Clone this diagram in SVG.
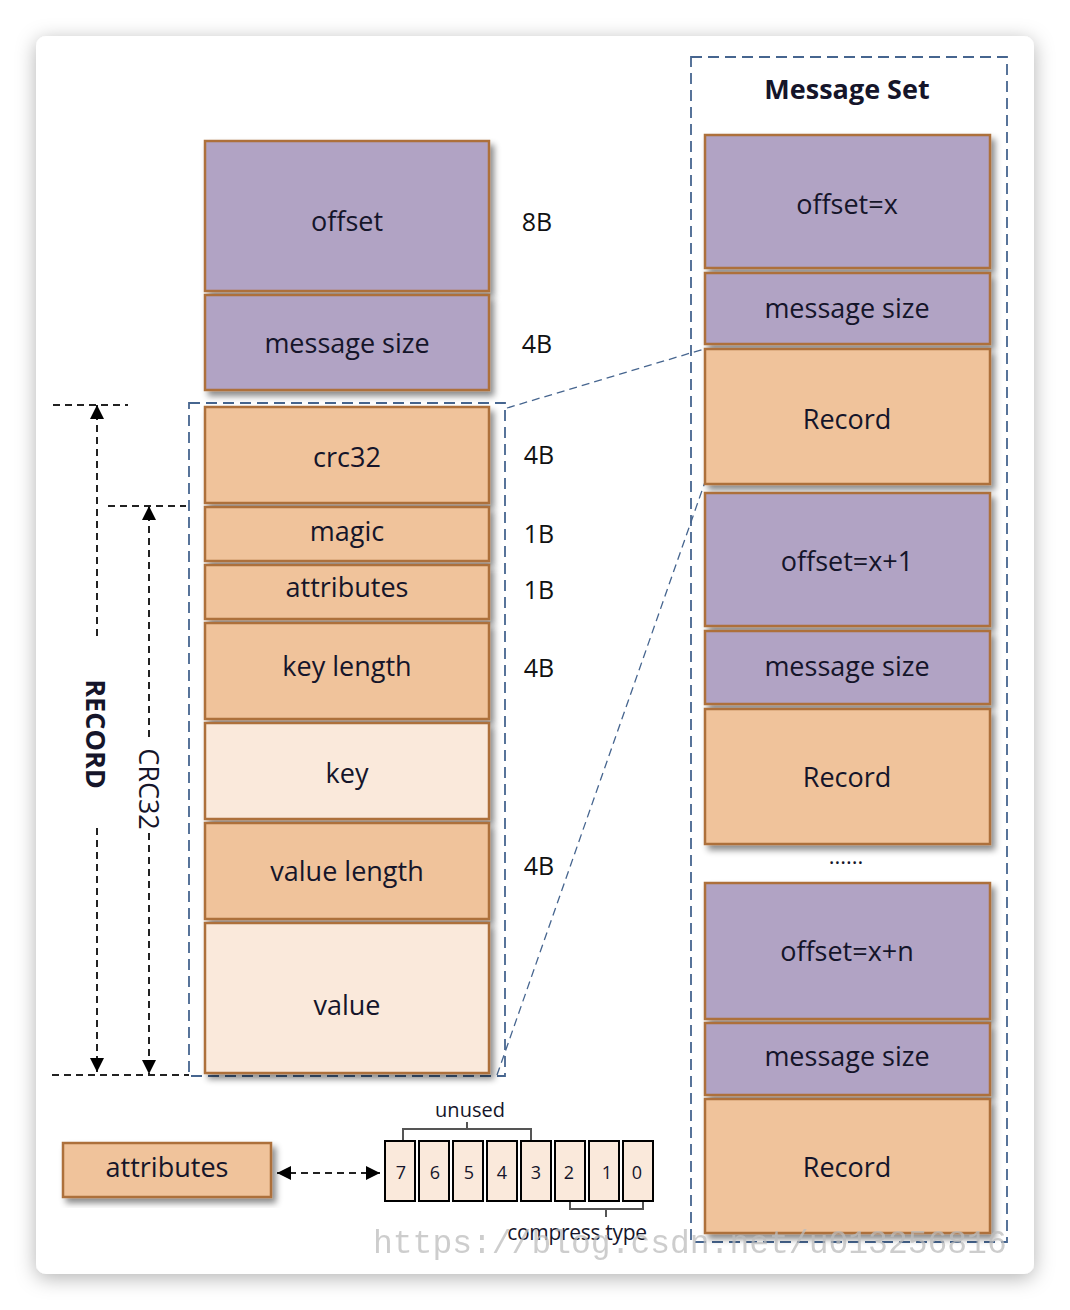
<svg xmlns="http://www.w3.org/2000/svg" width="1070" height="1310" viewBox="0 0 1070 1310">
<defs>
<filter id="card" x="-10%" y="-10%" width="120%" height="120%"><feDropShadow dx="0" dy="4" stdDeviation="10" flood-color="#000" flood-opacity="0.3"/></filter>
<filter id="sh" x="-10%" y="-10%" width="125%" height="130%"><feDropShadow dx="4" dy="5" stdDeviation="3" flood-color="#000" flood-opacity="0.45"/></filter>
<marker id="ah" markerUnits="userSpaceOnUse" markerWidth="14" markerHeight="14" refX="14" refY="7" orient="auto"><path d="M0,0 L14,7 L0,14 z" fill="#000"/></marker>
<marker id="ahs" markerUnits="userSpaceOnUse" markerWidth="14" markerHeight="14" refX="0" refY="7" orient="auto"><path d="M14,0 L0,7 L14,14 z" fill="#000"/></marker>
<style>
.p{fill:#B1A3C4;stroke:#AD6F3B;stroke-width:2.5;filter:url(#sh)}
.o{fill:#F0C39B;stroke:#AD6F3B;stroke-width:2.5;filter:url(#sh)}
.l{fill:#FAE9DB;stroke:#AD6F3B;stroke-width:2.5;filter:url(#sh)}
.t{font-family:"Open Sans","Noto Sans",sans-serif;font-size:27px;fill:#15152a;text-anchor:middle}
.s{font-family:"Open Sans","Noto Sans",sans-serif;font-size:25px;fill:#111;text-anchor:middle}
.b{font-weight:bold}
.bd{fill:none;stroke:#46658F;stroke-width:1.8;stroke-dasharray:11,6}
.pl{fill:none;stroke:#46658F;stroke-width:1.3;stroke-dasharray:8,5}
.kd{fill:none;stroke:#222;stroke-width:2;stroke-dasharray:7,5}
.bit{fill:#FAE9DB;stroke:#000;stroke-width:2}
.bt{font-family:"Open Sans","Noto Sans",sans-serif;font-size:18px;fill:#15152a;text-anchor:middle}
.br{fill:none;stroke:#555;stroke-width:2}
</style>
</defs>
<rect width="1070" height="1310" fill="#fff"/>
<rect x="36" y="36" width="998" height="1238" rx="10" fill="#fff" filter="url(#card)"/>

<g id="connectors">
<rect class="bd" x="189" y="403" width="316" height="673"/>
<rect class="bd" x="691" y="57" width="316" height="1185"/>
<line class="pl" x1="507" y1="408" x2="704" y2="349"/>
<line class="pl" x1="497" y1="1075" x2="705" y2="482"/>
<line class="kd" x1="53" y1="405" x2="128" y2="405"/>
<line class="kd" x1="108" y1="506" x2="186" y2="506"/>
<line class="kd" x1="52" y1="1075" x2="189" y2="1075"/>
<line class="kd" x1="97" y1="636" x2="97" y2="405" marker-end="url(#ah)"/>
<line class="kd" x1="97" y1="828" x2="97" y2="1072" marker-end="url(#ah)"/>
<line class="kd" x1="149" y1="737" x2="149" y2="506" marker-end="url(#ah)"/>
<line class="kd" x1="149" y1="833" x2="149" y2="1074" marker-end="url(#ah)"/>
<line class="kd" x1="277" y1="1173" x2="380" y2="1173" marker-start="url(#ahs)" marker-end="url(#ah)"/>
<path class="br" d="M403,1140 V1129 H531 V1140 M467,1129 V1122"/>
<path class="br" d="M570,1201 V1209 H643 V1201 M606,1209 V1217"/>
</g>

<g id="record-label"><text class="t b" transform="translate(86,734) rotate(90)">RECORD</text></g>
<g id="crc32-label"><text class="t" transform="translate(139,789) rotate(90)">CRC32</text></g>

<g id="offset"><rect class="p" x="205" y="141" width="284" height="150"/><text class="t" x="347" y="231">offset</text></g>
<g id="message-size"><rect class="p" x="205" y="295" width="284" height="95"/><text class="t" x="347" y="353">message size</text></g>
<g id="crc32"><rect class="o" x="205" y="407" width="284" height="96"/><text class="t" x="347" y="467">crc32</text></g>
<g id="magic"><rect class="o" x="205" y="507" width="284" height="54"/><text class="t" x="347" y="541">magic</text></g>
<g id="attributes"><rect class="o" x="205" y="565" width="284" height="54"/><text class="t" x="347" y="597">attributes</text></g>
<g id="key-length"><rect class="o" x="205" y="623" width="284" height="96"/><text class="t" x="347" y="676">key length</text></g>
<g id="key"><rect class="l" x="205" y="723" width="284" height="96"/><text class="t" x="347" y="783">key</text></g>
<g id="value-length"><rect class="o" x="205" y="823" width="284" height="96"/><text class="t" x="347" y="881">value length</text></g>
<g id="value"><rect class="l" x="205" y="923" width="284" height="150"/><text class="t" x="347" y="1015">value</text></g>

<g id="sizes">
<text class="s" x="537" y="231">8B</text>
<text class="s" x="537" y="353">4B</text>
<text class="s" x="539" y="464">4B</text>
<text class="s" x="539" y="543">1B</text>
<text class="s" x="539" y="599">1B</text>
<text class="s" x="539" y="677">4B</text>
<text class="s" x="539" y="875">4B</text>
</g>

<g id="message-set-title"><text class="t b" x="847" y="99">Message Set</text></g>
<g id="ms-offset-x"><rect class="p" x="705" y="135" width="285" height="133"/><text class="t" x="847" y="214">offset=x</text></g>
<g id="ms-size-1"><rect class="p" x="705" y="273" width="285" height="71"/><text class="t" x="847" y="318">message size</text></g>
<g id="ms-record-1"><rect class="o" x="705" y="349" width="285" height="135"/><text class="t" x="847" y="429">Record</text></g>
<g id="ms-offset-x1"><rect class="p" x="705" y="493" width="285" height="133"/><text class="t" x="847" y="571">offset=x+1</text></g>
<g id="ms-size-2"><rect class="p" x="705" y="631" width="285" height="73"/><text class="t" x="847" y="676">message size</text></g>
<g id="ms-record-2"><rect class="o" x="705" y="709" width="285" height="135"/><text class="t" x="847" y="787">Record</text></g>
<g id="ellipsis"><text class="t" x="846" y="864" style="font-size:22px">......</text></g>
<g id="ms-offset-xn"><rect class="p" x="705" y="883" width="285" height="136"/><text class="t" x="847" y="961">offset=x+n</text></g>
<g id="ms-size-n"><rect class="p" x="705" y="1023" width="285" height="72"/><text class="t" x="847" y="1066">message size</text></g>
<g id="ms-record-n"><rect class="o" x="705" y="1099" width="285" height="134"/><text class="t" x="847" y="1177">Record</text></g>

<g id="attributes-legend"><rect class="o" x="63" y="1143" width="208" height="54"/><text class="t" x="167" y="1177">attributes</text></g>

<g id="bits">
<rect class="bit" x="385" y="1141" width="30" height="60"/><text class="bt" x="401" y="1179">7</text>
<rect class="bit" x="419" y="1141" width="30" height="60"/><text class="bt" x="435" y="1179">6</text>
<rect class="bit" x="453" y="1141" width="30" height="60"/><text class="bt" x="469" y="1179">5</text>
<rect class="bit" x="487" y="1141" width="30" height="60"/><text class="bt" x="502" y="1179">4</text>
<rect class="bit" x="521" y="1141" width="30" height="60"/><text class="bt" x="536" y="1179">3</text>
<rect class="bit" x="555" y="1141" width="30" height="60"/><text class="bt" x="569" y="1179">2</text>
<rect class="bit" x="589" y="1141" width="30" height="60"/><text class="bt" x="607" y="1179">1</text>
<rect class="bit" x="623" y="1141" width="30" height="60"/><text class="bt" x="637" y="1179">0</text>
<text class="bt" x="470" y="1117" style="font-size:20px">unused</text>
<text class="bt" x="577" y="1240" style="font-size:21px;letter-spacing:-0.3px">compress type</text>
</g>

<text x="373" y="1253" style="font-family:'Liberation Mono',monospace;font-size:33px;fill:#bdbdbd;opacity:0.75">https://blog.csdn.net/u013256816</text>
</svg>
